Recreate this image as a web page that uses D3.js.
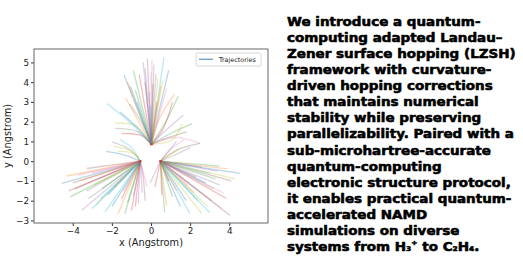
<!DOCTYPE html>
<html>
<head>
<meta charset="utf-8">
<script src="https://cdn.jsdelivr.net/npm/d3@7"></script>
<style>
  body { margin: 0; background: #fff; }
  svg { display: block; }
</style>
</head>
<body>
<script>
const WIDTH = 523;
const HEIGHT = 262;

// start points of the three atoms
const centers = [[0.02, 0.85], [-0.55, 0.0], [0.48, 0.0]];

// trajectories, grouped by start point, each a list of [x, y] after the start
const topPaths = [
  [[-1.38, 4.36]], [[-1.2, 4.0]], [[-0.9, 4.6]], [[-0.6, 4.37]], [[-0.4, 5.0]],
  [[-0.19, 5.2]], [[0.0, 4.5]], [[0.15, 4.9]], [[0.35, 4.2]], [[0.66, 5.26]],
  [[0.9, 4.6]], [[0.5, 3.8]], [[0.7, 1.9], [1.39, 3.29]], [[0.6, 1.6], [1.1, 3.0]],
  [[0.8, 1.6], [1.65, 2.33]], [[0.9, 1.2], [1.82, 1.49]], [[1.2, 1.2], [2.5, 0.9]],
  [[-0.7, 1.5], [-1.84, 1.66]], [[-0.8, 1.8], [-1.84, 1.91]], [[-1.0, 1.9], [-2.26, 2.92]],
  [[-0.6, 1.6], [-1.6, 2.5]], [[-1.3, 3.2]], [[-0.8, 3.6]], [[0.3, 3.0]], [[-0.1, 3.5]],
  [[-0.3, 4.0]], [[0.05, 5.1]], [[0.25, 4.4]], [[0.6, 4.1]], [[-0.7, 3.0]],
  [[-1.05, 3.8]], [[0.45, 2.2], [1.2, 3.4]], [[1.0, 1.4], [2.1, 1.9]], [[-0.5, 1.3], [-1.5, 1.4]],
  [[-0.3, 4.7]], [[0.1, 3.9]], [[0.8, 3.7]], [[-0.5, 2.0], [-1.1, 2.9]], [[1.1, 1.1], [1.6, 1.9]],
  [[0.0, 2.8]]
];
const leftPaths = [
  [[-4.56, -1.13]], [[-4.3, -0.75]], [[-4.13, -1.81]], [[-3.9, -1.4]], [[-3.54, -2.48]],
  [[-3.28, -0.37]], [[-3.0, -0.6]], [[-3.2, -1.9]], [[-2.8, -2.2]], [[-2.35, -2.57]],
  [[-2.0, -2.3]], [[-1.7, -2.7]], [[-1.33, -2.65]], [[-1.0, -2.5]], [[-0.65, -2.14]],
  [[-0.4, -0.8], [-0.3, -2.0]], [[-0.2, -1.3]], [[-1.1, 0.6], [-2.0, 0.98]],
  [[-1.0, 0.5], [-1.9, 0.76]], [[-1.0, 0.7], [-1.6, 1.1]], [[-1.3, 0.3], [-2.3, 0.5]],
  [[-3.6, -1.0]], [[-2.5, -1.4]], [[-1.5, -1.9]], [[-0.9, -1.8]],
  [[-4.0, -1.1]], [[-3.7, -0.7]], [[-3.3, -1.5]], [[-2.9, -1.2]], [[-2.6, -1.9]],
  [[-2.2, -1.7]], [[-1.9, -1.3]], [[-1.2, -2.1]], [[-0.8, -2.3]], [[-0.45, -1.6]],
  [[-4.2, -1.5]], [[-2.7, -0.9]], [[-1.4, -1.5]], [[-0.9, 0.4], [-1.7, 0.5]], [[-3.0, -2.4]]
];
const rightPaths = [
  [[4.54, -0.62]], [[3.9, -0.39]], [[3.5, -0.25]], [[3.86, -1.89]], [[3.5, -1.2]],
  [[4.03, -2.74]], [[3.6, -2.4]], [[3.1, -2.0]], [[2.6, -2.66]], [[1.99, -2.65]],
  [[1.5, -2.3]], [[0.8, -2.23]], [[1.1, -1.8]], [[0.55, -1.7]], [[-0.05, -1.1]],
  [[1.4, 0.6], [2.5, 0.9]], [[1.0, 0.6], [1.7, 1.1]], [[1.2, 0.3], [2.0, 0.7]],
  [[1.4, 0.6]], [[3.0, -0.6]], [[2.8, -1.1]], [[2.2, -1.6]], [[3.3, -0.9]],
  [[0.9, -1.0]], [[2.6, -0.3]],
  [[4.1, -1.0]], [[3.7, -1.6]], [[3.2, -1.4]], [[2.9, -2.3]], [[2.4, -2.0]],
  [[1.8, -2.0]], [[1.3, -1.5]], [[0.7, -2.6]], [[0.2, -1.3]], [[3.4, -0.5]],
  [[2.3, -0.8]], [[1.9, -1.2]], [[0.9, 0.5], [1.3, 1.0]], [[4.3, -0.9]], [[3.0, -2.6]]
];

const xTicks = [-4, -2, 0, 2, 4];
const yTicks = [-3, -2, -1, 0, 1, 2, 3, 4, 5];
const xDomain = [-5.98, 5.98];
const yDomain = [-3.13, 5.68];

const blurbLines = [
  "We introduce a quantum-",
  "computing adapted Landau\u2013",
  "Zener surface hopping (LZSH)",
  "framework with curvature-",
  "driven hopping corrections",
  "that maintains numerical",
  "stability while preserving",
  "parallelizability. Paired with a",
  "sub-microhartree-accurate",
  "quantum-computing",
  "electronic structure protocol,",
  "it enables practical quantum-",
  "accelerated NAMD",
  "simulations on diverse"
];

const tab10 = d3.schemeCategory10;

function setup(){
  let svg = d3.select("body").append("svg")
    .attr("width", WIDTH)
    .attr("height", HEIGHT);
  svg.append("rect").attr("width", WIDTH).attr("height", HEIGHT).attr("fill", "#fff");

  let left = 34, right = 268, top = 49, bottom = 223;
  let x = d3.scaleLinear().domain(xDomain).range([left, right]);
  let y = d3.scaleLinear().domain(yDomain).range([bottom, top]);

  svg.append("clipPath").attr("id", "plotclip")
    .append("rect").attr("x", left).attr("y", top)
    .attr("width", right - left).attr("height", bottom - top);

  let line = d3.line().x(d => x(d[0])).y(d => y(d[1])).curve(d3.curveCatmullRom);

  let all = [];
  [topPaths, leftPaths, rightPaths].forEach((group, g) => {
    group.forEach(p => all.push([centers[g]].concat(p)));
  });

  let plot = svg.append("g").attr("clip-path", "url(#plotclip)");
  plot.selectAll(".traj")
    .data(all)
    .enter()
    .append("path")
    .attr("class", "traj")
    .attr("d", line)
    .attr("fill", "none")
    .attr("stroke", (d, i) => tab10[i % 10])
    .attr("stroke-width", 1.3)
    .attr("stroke-opacity", 0.3);

  // start markers
  plot.selectAll(".start")
    .data(centers)
    .enter()
    .append("rect")
    .attr("x", d => x(d[0]) - 1.5)
    .attr("y", d => y(d[1]) - 1)
    .attr("width", 3).attr("height", 2)
    .attr("fill", "#d62728")
    .attr("opacity", 0.7);

  // axes
  let fmt = d => d < 0 ? "\u2212" + Math.abs(d) : d;
  let xAxis = d3.axisBottom(x).tickValues(xTicks).tickSize(3).tickPadding(2).tickFormat(fmt);
  let yAxis = d3.axisLeft(y).tickValues(yTicks).tickSize(3).tickPadding(2).tickFormat(fmt);

  let gx = svg.append("g").attr("transform", `translate(0,${bottom})`).call(xAxis);
  let gy = svg.append("g").attr("transform", `translate(${left},0)`).call(yAxis);
  [gx, gy].forEach(g => {
    g.select(".domain").remove();
    g.selectAll("line").attr("stroke", "#333");
    g.selectAll("text").attr("font-family", "DejaVu Sans").attr("font-size", 8.8).attr("fill", "#222");
  });

  svg.append("rect")
    .attr("x", left).attr("y", top)
    .attr("width", right - left).attr("height", bottom - top)
    .attr("fill", "none").attr("stroke", "#666").attr("stroke-width", 1);

  svg.append("text")
    .attr("x", (left + right) / 2).attr("y", 246)
    .attr("text-anchor", "middle")
    .attr("font-family", "DejaVu Sans").attr("font-size", 9.8).attr("fill", "#222")
    .text("x (Angstrom)");
  svg.append("text")
    .attr("transform", `translate(11,${(top + bottom) / 2}) rotate(-90)`)
    .attr("text-anchor", "middle")
    .attr("font-family", "DejaVu Sans").attr("font-size", 9.8).attr("fill", "#222")
    .text("y (Angstrom)");

  // legend
  let lg = svg.append("g");
  lg.append("rect").attr("x", 196).attr("y", 53).attr("width", 65).attr("height", 13)
    .attr("rx", 1.5).attr("fill", "#fff").attr("stroke", "#ccc").attr("stroke-width", 0.8);
  lg.append("line").attr("x1", 199).attr("x2", 213).attr("y1", 59.3).attr("y2", 59.3)
    .attr("stroke", "#6fa3d0").attr("stroke-width", 1.4);
  lg.append("text").attr("x", 219).attr("y", 61.6)
    .attr("font-family", "DejaVu Sans").attr("font-size", 6.4).attr("fill", "#222")
    .text("Trajectories");

  // blurb
  let tg = svg.append("g").attr("class", "blurb");
  let fs = 11.8, lh = 16.07, x0 = 287, y0 = 26;
  let font = "DejaVu Sans";
  let tt = tg.append("text")
    .attr("font-family", font).attr("font-weight", "bold")
    .attr("font-size", fs).attr("fill", "#000")
    .attr("stroke", "#000").attr("stroke-width", 0.55).attr("stroke-linejoin", "round");
  blurbLines.forEach((s, i) => {
    tt.append("tspan").attr("x", 0).attr("y", y0 + i * lh).text(s);
  });
  let last = tt.append("tspan").attr("x", 0).attr("y", y0 + blurbLines.length * lh);
  last.append("tspan").text("systems from H");
  last.append("tspan").attr("font-size", fs * 0.55).attr("dy", 0.5).text("3");
  last.append("tspan").attr("font-size", fs * 0.55).attr("dy", -6).text("+");
  last.append("tspan").attr("dy", 5.5).text(" to C");
  last.append("tspan").attr("font-size", fs * 0.55).attr("dy", 0.5).text("2");
  last.append("tspan").attr("dy", -0.5).text("H");
  last.append("tspan").attr("font-size", fs * 0.55).attr("dy", 0.5).text("4");
  last.append("tspan").attr("dy", -0.5).text(".");

  // fit the heavy face to the reference line width
  let probe = tg.append("text").attr("font-family", font).attr("font-weight", "bold")
    .attr("font-size", fs).text(blurbLines[7]);
  let w = probe.node().getComputedTextLength();
  probe.remove();
  let sx = 227 / w;
  tg.attr("transform", `translate(${x0},0) scale(${sx},1)`);
}

window.addEventListener("load", setup);
</script>
</body>
</html>
